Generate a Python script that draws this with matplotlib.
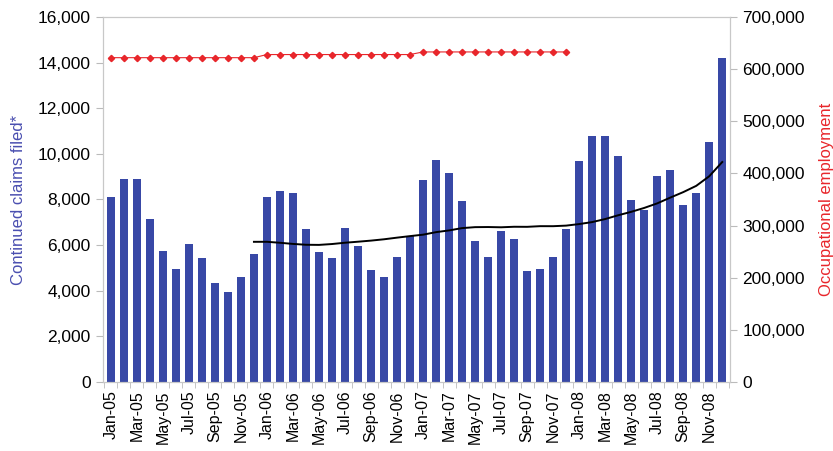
import matplotlib
matplotlib.use('Agg')
import matplotlib.pyplot as plt
import numpy as np
from matplotlib.ticker import FuncFormatter

plt.rcParams['font.family'] = ['Liberation Sans', 'DejaVu Sans']

# months Jan-05 .. Dec-08
months = [f'{m}-{y:02d}' for y in range(5, 9)
          for m in ['Jan', 'Feb', 'Mar', 'Apr', 'May', 'Jun',
                    'Jul', 'Aug', 'Sep', 'Oct', 'Nov', 'Dec']]

# continued claims filed (left axis)
claims = [8100, 8900, 8880, 7150, 5760, 4970, 6060, 5440, 4330, 3930, 4620, 5600,
          8110, 8390, 8270, 6710, 5690, 5420, 6750, 5980, 4910, 4620, 5480, 6410,
          8860, 9730, 9180, 7920, 6190, 5480, 6620, 6260, 4870, 4970, 5470, 6710,
          9670, 10780, 10780, 9910, 7990, 7530, 9020, 9280, 7760, 8270, 10540, 14200]

# 12-month moving average of claims, Dec-05 .. Dec-08 (left axis)
trend = [6145, 6146, 6103, 6053, 6016, 6010, 6048, 6105, 6150, 6198, 6256, 6328,
         6395, 6458, 6569, 6645, 6746, 6788, 6793, 6782, 6805, 6802, 6831, 6830,
         6855, 6923, 7010, 7143, 7309, 7459, 7630, 7830, 8082, 8323, 8598, 9019, 9643]

# occupational employment (right axis), Jan-05 .. Dec-07
employment = [622000] * 12 + [628000] * 12 + [633000] * 12

x = np.arange(len(months))
trend_x = x[len(months) - len(trend):]
emp_x = x[:len(employment)]

fig = plt.figure(figsize=(8.33, 4.51), dpi=100)
ax = fig.add_axes([0.1237, 0.153, 0.7527, 0.8093])
ax2 = ax.twinx()

ax.bar(x, claims, width=0.62, color='#3848A6', zorder=2)
ax.plot(trend_x, trend, color='black', lw=1.4, zorder=3)
ax2.plot(emp_x, employment, color='#E8262B', lw=0.8, marker='D', markersize=3.2,
         zorder=4)

ax.set_xlim(-0.6, len(months) - 0.4)
ax.set_ylim(0, 16000)
ax2.set_ylim(0, 700000)
ax.set_yticks(np.arange(0, 16001, 2000))
ax2.set_yticks(np.arange(0, 700001, 100000))
fmt = FuncFormatter(lambda v, p: f'{int(v):,}')
ax.yaxis.set_major_formatter(fmt)
ax2.yaxis.set_major_formatter(fmt)

ax.set_xticks(x[::2])
ax.set_xticklabels(months[::2], rotation=90, fontsize=11.5)
ax.tick_params(axis='x', which='major', length=0, pad=6)
ax.set_xticks(np.arange(-0.5, len(months), 1), minor=True)
ax.tick_params(axis='x', which='minor', length=4, color='#bbbbbb')

ax.tick_params(axis='y', labelsize=12.5, length=5, color='#bbbbbb', pad=4)
ax2.tick_params(axis='y', labelsize=12.5, length=5, color='#bbbbbb', pad=4)

for a in (ax, ax2):
    for s in a.spines.values():
        s.set_color('#c8c8c8')

ax.set_ylabel('Continued claims filed*', color='#4a4fb0', fontsize=12, labelpad=8)
ax2.set_ylabel('Occupational employment', color='#e8262b', fontsize=12, labelpad=10)

fig.savefig('out.png', dpi=100)
